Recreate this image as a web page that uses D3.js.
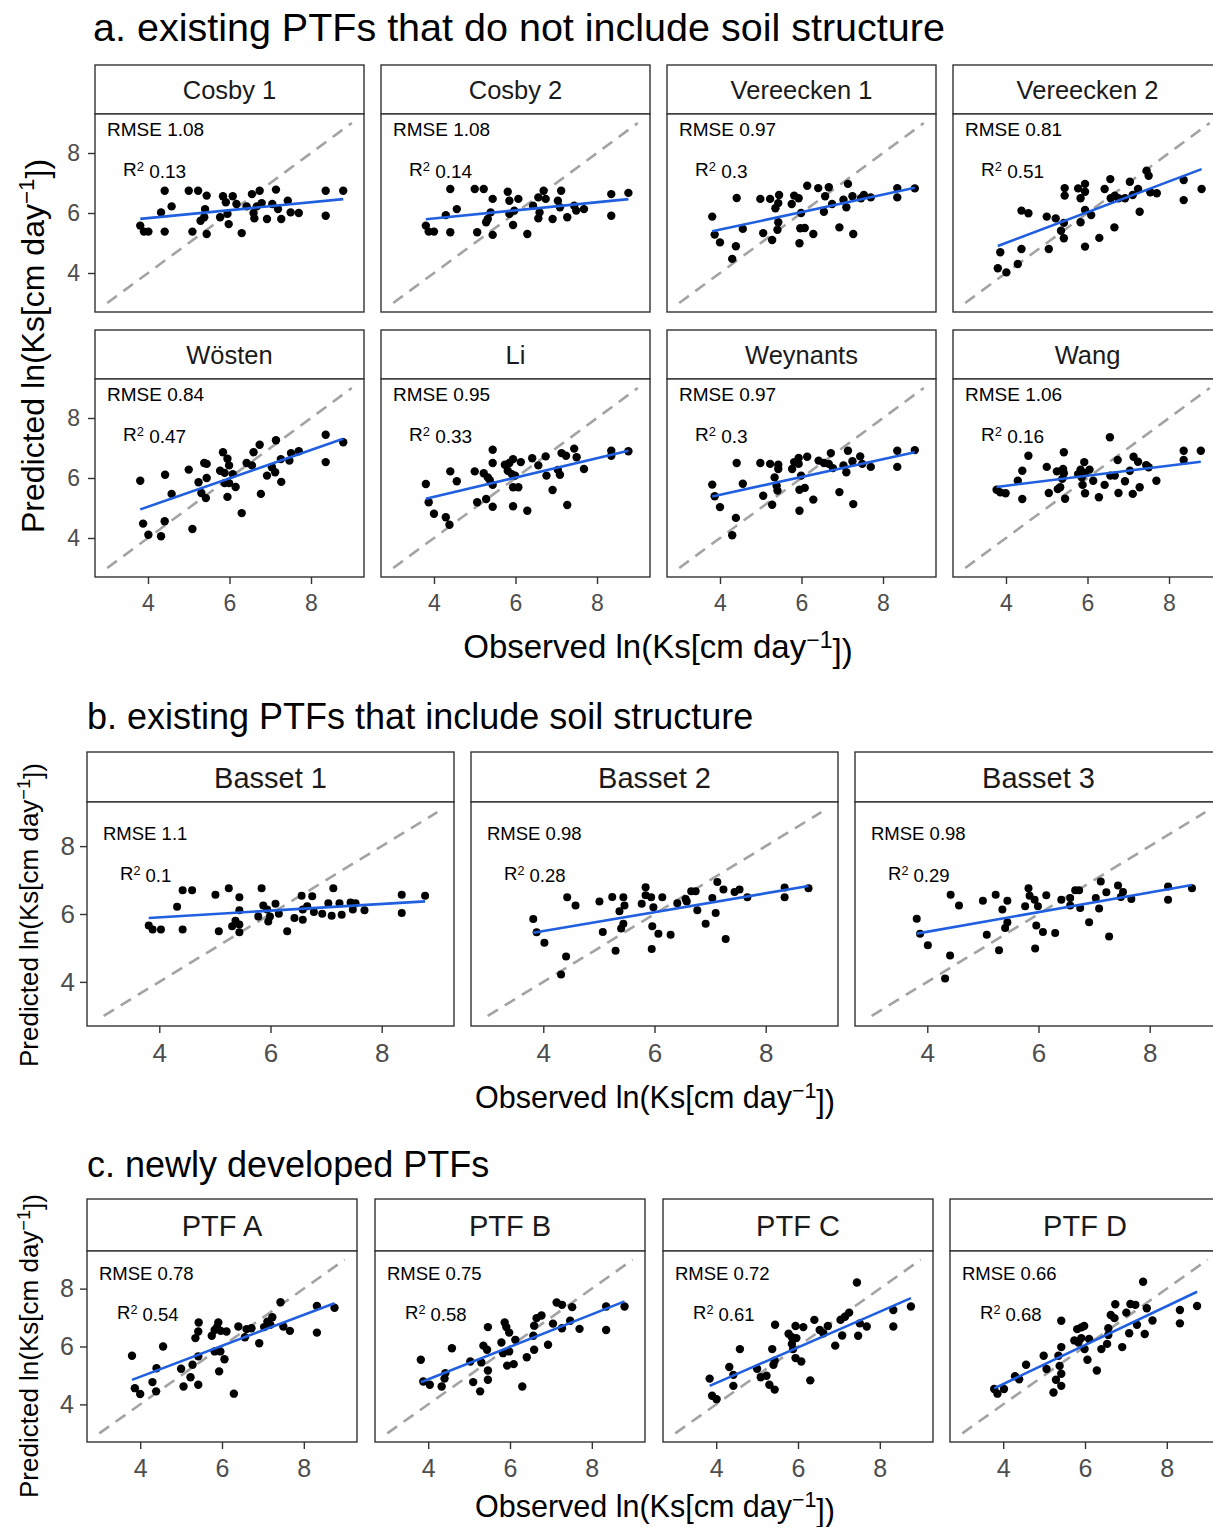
<!DOCTYPE html>
<html>
<head>
<meta charset="utf-8">
<script src="https://cdn.jsdelivr.net/npm/d3@7"></script>
<style>
  body { margin: 0; background: #fff; }
  svg { display: block; font-family: "Liberation Sans", Arial, Helvetica, sans-serif; }
</style>
</head>
<body>
<div id="chart"></div>
<script>
"use strict"

// shared axis settings
const axisDomain = [2.7, 9.3];
const oneToOne = [3, 9];
const tickValues = [4, 6, 8];

// panel labels and fit statistics
const namesA = ["Cosby 1", "Cosby 2", "Vereecken 1", "Vereecken 2", "Wösten", "Li", "Weynants", "Wang"];
const rmseA = ["1.08", "1.08", "0.97", "0.81", "0.84", "0.95", "0.97", "1.06"];
const r2A = ["0.13", "0.14", "0.3", "0.51", "0.47", "0.33", "0.3", "0.16"];
const namesB = ["Basset 1", "Basset 2", "Basset 3"];
const rmseB = ["1.1", "0.98", "0.98"];
const r2B = ["0.1", "0.28", "0.29"];
const namesC = ["PTF A", "PTF B", "PTF C", "PTF D"];
const rmseC = ["0.78", "0.75", "0.72", "0.66"];
const r2C = ["0.54", "0.58", "0.61", "0.68"];

// [observed, predicted] pairs
const cosby1 = [[3.81,5.58],[3.90,5.38],[4.01,5.38],[4.32,6.02],[4.41,6.74],[4.41,5.38],[4.58,6.22],[5.00,6.74],[5.09,5.38],[5.23,6.74],[5.44,6.58],[5.40,6.13],[5.38,5.86],[5.29,5.74],[5.44,5.30],[5.84,6.56],[6.08,6.56],[5.91,6.36],[5.77,5.86],[5.95,5.97],[5.98,5.63],[6.17,6.30],[6.30,5.33],[6.42,6.22],[6.55,6.63],[6.74,6.74],[6.79,6.33],[6.67,6.22],[6.59,6.00],[6.61,5.82],[6.92,5.80],[7.05,6.30],[7.14,6.78],[7.19,6.13],[7.27,5.80],[7.43,6.41],[7.50,6.02],[7.70,6.00],[8.36,6.74],[8.36,5.91],[8.79,6.74]];
const cosby2 = [[3.80,5.58],[3.87,5.38],[4.00,5.38],[4.29,5.93],[4.40,6.80],[4.56,6.13],[4.40,5.36],[5.00,6.80],[5.06,5.36],[5.22,6.80],[5.44,6.47],[5.39,6.02],[5.32,5.80],[5.28,5.69],[5.44,5.27],[5.81,6.71],[5.85,6.41],[6.07,6.47],[5.97,6.08],[5.85,5.97],[5.94,5.60],[6.29,5.30],[6.43,6.24],[6.56,6.52],[6.74,6.47],[6.69,6.74],[6.59,6.02],[6.56,5.82],[6.91,5.80],[7.04,6.41],[7.12,6.74],[7.09,6.19],[7.27,5.86],[7.44,6.24],[7.49,6.08],[7.68,6.13],[8.35,6.63],[8.35,5.91],[8.77,6.67]];
const vereecken1 = [[3.81,5.88],[3.87,5.28],[4.00,5.02],[4.30,4.47],[4.39,4.89],[4.41,6.50],[4.56,5.47],[4.99,6.47],[5.06,5.33],[5.23,6.47],[5.45,6.60],[5.43,6.33],[5.36,6.16],[5.43,5.69],[5.41,5.44],[5.28,5.10],[5.82,6.58],[5.93,6.49],[5.76,6.30],[5.99,6.00],[5.97,5.49],[6.08,5.50],[5.95,4.99],[6.14,6.91],[6.29,5.30],[6.41,6.83],[6.58,6.56],[6.67,6.86],[6.75,6.30],[6.55,6.04],[6.93,5.52],[7.03,6.44],[7.10,6.19],[7.14,6.97],[7.25,6.56],[7.27,5.30],[7.46,6.49],[7.53,6.60],[7.70,6.52],[8.35,6.83],[8.35,6.52],[8.78,6.82]];
const vereecken2 = [[3.80,4.16],[3.86,4.69],[4.01,4.02],[4.29,4.30],[4.38,4.80],[4.38,6.08],[4.55,5.99],[5.00,5.88],[5.05,4.80],[5.22,5.82],[5.44,6.83],[5.44,6.58],[5.42,5.67],[5.35,5.41],[5.42,5.16],[5.77,6.82],[5.94,6.97],[5.83,6.49],[5.94,6.71],[5.83,5.69],[5.94,6.10],[6.09,5.93],[5.94,4.88],[6.29,5.17],[6.42,6.80],[6.56,7.13],[6.57,6.49],[6.67,6.58],[6.66,5.52],[6.76,6.49],[6.92,6.49],[7.04,7.04],[7.11,6.60],[7.24,6.80],[7.28,6.04],[7.45,7.41],[7.50,7.24],[7.54,6.69],[7.70,6.66],[8.36,7.10],[8.36,6.43],[8.80,6.80]];
const wosten = [[3.81,5.91],[3.88,4.48],[4.01,4.11],[4.32,4.06],[4.41,4.56],[4.42,6.11],[4.58,5.47],[5.00,6.28],[5.09,4.30],[5.38,6.50],[5.44,6.47],[5.44,6.00],[5.24,5.86],[5.31,5.50],[5.42,5.33],[5.84,6.86],[5.95,6.64],[5.99,6.42],[5.77,6.24],[5.88,6.17],[6.08,6.13],[5.88,5.83],[5.99,5.83],[6.15,5.70],[5.95,5.37],[6.30,4.83],[6.42,6.50],[6.59,6.86],[6.74,7.11],[6.55,6.42],[6.77,5.47],[6.92,6.08],[7.04,6.36],[7.12,6.19],[7.14,7.26],[7.27,5.87],[7.26,6.63],[7.47,6.58],[7.51,6.83],[7.70,6.89],[8.36,7.44],[8.36,6.53],[8.79,7.19]];
const li = [[3.80,5.80],[3.87,5.19],[4.00,4.81],[4.29,4.69],[4.38,4.44],[4.40,6.22],[4.56,5.89],[5.00,6.22],[5.06,5.19],[5.22,6.16],[5.32,6.02],[5.44,6.94],[5.44,6.50],[5.37,5.93],[5.44,5.77],[5.28,5.30],[5.44,5.04],[5.74,6.44],[5.85,6.50],[5.94,6.63],[5.81,6.24],[5.91,6.13],[5.99,6.08],[5.94,5.69],[6.07,5.69],[5.94,5.06],[6.13,6.53],[6.29,4.91],[6.41,6.66],[6.56,6.42],[6.74,6.72],[6.76,6.08],[6.91,5.60],[7.04,6.27],[7.09,6.11],[7.13,6.83],[7.24,6.74],[7.27,5.10],[7.44,6.98],[7.50,6.69],[7.68,6.30],[8.35,6.91],[8.35,6.74],[8.77,6.89]];
const weynants = [[3.81,5.78],[3.87,5.39],[4.00,5.03],[4.30,4.09],[4.39,4.67],[4.41,6.50],[4.56,5.81],[4.99,6.50],[5.06,5.41],[5.23,6.47],[5.28,5.11],[5.43,6.44],[5.43,6.30],[5.34,6.02],[5.39,5.74],[5.41,5.58],[5.82,6.53],[5.93,6.67],[5.93,6.47],[5.77,6.30],[5.99,6.08],[5.95,5.61],[6.08,5.67],[5.95,4.91],[6.14,6.71],[6.29,5.28],[6.42,6.58],[6.55,6.50],[6.72,6.83],[6.67,6.47],[6.77,6.33],[6.93,5.53],[7.03,6.42],[7.10,6.19],[7.14,6.91],[7.25,6.56],[7.27,5.13],[7.44,6.72],[7.49,6.47],[7.70,6.37],[8.35,6.91],[8.35,6.37],[8.78,6.93]];
const wang = [[3.77,5.61],[3.86,5.52],[3.99,5.49],[4.29,5.91],[4.40,6.24],[4.40,5.30],[4.55,6.74],[5.00,6.37],[5.05,5.50],[5.25,6.22],[5.42,6.86],[5.40,6.30],[5.42,6.16],[5.38,5.97],[5.33,5.69],[5.27,5.63],[5.45,5.31],[5.92,6.53],[5.83,6.28],[6.05,6.28],[5.94,6.16],[5.77,6.13],[5.86,6.02],[6.14,5.91],[5.88,5.77],[5.94,5.49],[6.28,5.36],[6.42,5.77],[6.55,7.36],[6.56,6.08],[6.67,6.08],[6.74,6.60],[6.76,5.50],[6.92,5.89],[7.04,6.24],[7.11,5.47],[7.13,6.71],[7.24,6.54],[7.28,5.69],[7.44,6.43],[7.50,6.36],[7.69,5.91],[8.36,6.91],[8.36,6.60],[8.78,6.91]];
const basset1 = [[3.81,5.66],[3.88,5.54],[4.03,5.54],[4.32,6.21],[4.42,6.70],[4.59,6.70],[4.42,5.54],[5.01,6.57],[5.07,5.49],[5.25,6.76],[5.44,6.49],[5.44,6.11],[5.31,5.64],[5.37,5.80],[5.44,5.69],[5.44,5.46],[5.84,6.76],[5.87,6.25],[5.94,6.13],[5.78,5.93],[5.99,5.93],[5.96,5.78],[6.09,6.30],[6.15,6.01],[6.30,5.49],[6.43,5.88],[6.56,6.54],[6.58,6.13],[6.58,5.83],[6.66,6.23],[6.75,6.52],[6.78,6.06],[6.93,6.01],[7.04,6.32],[7.13,6.76],[7.10,5.95],[7.24,6.32],[7.28,5.98],[7.44,6.34],[7.53,6.32],[7.48,6.13],[7.69,6.11],[8.36,6.57],[8.36,6.03],[8.78,6.54]];
const basset2 = [[3.82,5.85],[3.88,5.46],[4.02,5.15],[4.32,4.22],[4.41,4.75],[4.43,6.49],[4.58,6.25],[5.01,6.37],[5.07,5.47],[5.24,6.50],[5.30,4.92],[5.44,6.49],[5.46,6.25],[5.37,6.08],[5.44,5.71],[5.40,5.57],[5.84,6.79],[5.84,6.55],[5.94,6.49],[5.77,6.30],[5.98,6.20],[5.96,5.64],[5.95,4.97],[6.07,5.42],[6.14,6.49],[6.29,5.39],[6.41,6.32],[6.56,6.44],[6.66,6.67],[6.74,6.67],[6.77,6.11],[6.92,5.71],[7.04,6.47],[7.13,6.94],[7.10,6.03],[7.24,6.72],[7.28,5.26],[7.44,6.65],[7.53,6.72],[7.67,6.49],[8.34,6.78],[8.34,6.49],[8.77,6.76],[6.58,6.37]];
const basset3 = [[3.81,5.86],[3.87,5.42],[4.01,5.08],[4.32,4.10],[4.41,4.78],[4.42,6.57],[4.57,6.25],[5.00,6.39],[5.07,5.39],[5.23,6.57],[5.29,4.93],[5.44,6.39],[5.35,6.13],[5.44,5.76],[5.40,5.59],[5.82,6.76],[5.84,6.54],[5.93,6.42],[5.76,6.23],[5.99,6.23],[5.96,5.66],[5.94,4.98],[6.08,5.47],[6.14,6.55],[6.30,5.44],[6.41,6.42],[6.57,6.47],[6.57,6.25],[6.66,6.70],[6.73,6.70],[6.75,6.18],[6.91,5.76],[7.03,6.47],[7.12,6.96],[7.09,6.16],[7.22,6.64],[7.27,5.34],[7.43,6.84],[7.52,6.65],[7.48,6.50],[7.67,6.44],[8.33,6.81],[8.33,6.42],[8.76,6.76]];
const ptfA = [[3.80,5.68],[3.87,4.56],[4.00,4.36],[4.30,4.77],[4.39,4.45],[4.40,5.25],[4.56,6.00],[5.00,5.23],[5.06,4.62],[5.23,4.94],[5.28,5.37],[5.35,6.29],[5.42,6.52],[5.43,6.83],[5.42,5.66],[5.42,4.68],[5.75,6.37],[5.82,6.57],[5.91,6.83],[5.97,6.54],[5.88,6.67],[6.11,6.52],[5.82,5.83],[5.96,5.83],[6.06,5.56],[5.93,5.14],[6.29,4.37],[6.40,6.69],[6.56,6.32],[6.60,6.60],[6.72,6.63],[6.91,6.11],[7.03,6.67],[7.11,6.86],[7.23,7.01],[7.18,6.75],[7.43,7.53],[7.50,6.69],[7.66,6.54],[8.32,7.40],[8.32,6.48],[8.75,7.34]];
const ptfB = [[3.82,5.54],[3.88,4.79],[4.04,4.68],[4.33,4.62],[4.40,4.89],[4.42,5.08],[4.58,5.94],[5.03,5.48],[5.10,4.77],[5.27,4.45],[5.35,6.03],[5.44,5.89],[5.30,5.45],[5.46,6.67],[5.46,5.17],[5.46,4.85],[5.79,6.14],[5.83,5.77],[5.87,6.83],[5.91,6.67],[5.98,6.48],[5.98,5.83],[5.93,5.34],[6.09,5.39],[6.13,6.23],[6.30,4.62],[6.41,5.63],[6.57,6.37],[6.59,5.89],[6.65,6.98],[6.77,7.07],[6.59,6.72],[6.93,6.06],[7.05,6.79],[7.14,7.52],[7.27,7.44],[7.27,6.63],[7.47,6.89],[7.52,7.36],[7.70,6.61],[8.35,7.38],[8.35,6.57],[8.80,7.38]];
const ptfC = [[3.84,4.89],[3.90,4.30],[4.01,4.18],[4.32,5.29],[4.42,5.02],[4.42,4.64],[4.58,5.91],[5.00,5.23],[5.09,4.94],[5.23,4.99],[5.30,4.68],[5.43,4.51],[5.37,5.91],[5.43,5.51],[5.40,5.37],[5.44,6.75],[5.77,6.44],[5.85,6.32],[5.94,6.71],[5.96,6.29],[5.85,6.09],[5.88,5.91],[5.94,5.60],[6.08,5.48],[6.13,6.67],[6.30,4.83],[6.40,6.92],[6.53,6.57],[6.62,6.46],[6.73,6.71],[6.91,6.03],[7.08,6.38],[7.04,6.92],[7.15,7.03],[7.25,7.17],[7.44,8.21],[7.47,6.37],[7.51,6.80],[7.68,6.69],[8.33,7.26],[8.33,6.69],[8.76,7.38]];
const ptfD = [[3.78,4.53],[3.86,4.37],[4.02,4.53],[4.29,4.97],[4.39,4.87],[4.56,5.37],[4.99,5.68],[5.06,5.22],[5.23,4.41],[5.29,4.85],[5.42,4.64],[5.42,5.06],[5.38,5.33],[5.35,5.68],[5.42,5.98],[5.42,6.89],[5.74,6.21],[5.81,6.60],[5.91,6.66],[5.98,6.71],[5.91,6.29],[5.84,6.14],[5.99,5.91],[6.10,6.26],[6.06,5.54],[6.29,5.17],[6.40,5.91],[6.54,6.09],[6.57,6.63],[6.57,6.40],[6.74,7.46],[6.63,7.09],[6.72,6.98],[6.91,5.98],[7.01,7.17],[7.08,6.46],[7.11,7.47],[7.23,7.44],[7.27,6.75],[7.42,8.24],[7.46,6.43],[7.51,7.32],[7.65,6.90],[8.32,7.26],[8.32,6.80],[8.74,7.40]];

// layout of the three sub-figures
const sections = [
  {title: "a. existing PTFs that do not include soil structure", titleY: 41, titleX: 93, titleFont: 39.5,
   names: namesA, rmse: rmseA, r2: r2A,
   points: [cosby1, cosby2, vereecken1, vereecken2, wosten, li, weynants, wang],
   lefts: [95, 381, 667, 953], width: 269, stripTops: [65, 330], stripH: 49, plotH: 198,
   stripFont: 25.5, stripBase: 34, tickFont: 23, tickPad: 8, xLabelOff: 34, annFont: 19,
   rmsePos: [12, 22], r2Pos: [28, 62], radius: 4.2,
   xTitle: {x: 658, y: 658, size: 33}, yTitle: {x: 44, y: 346, size: 32}},
  {title: "b. existing PTFs that include soil structure", titleY: 729, titleX: 87, titleFont: 36,
   names: namesB, rmse: rmseB, r2: r2B,
   points: [basset1, basset2, basset3],
   lefts: [87, 471, 855], width: 367, stripTops: [752], stripH: 50, plotH: 224,
   stripFont: 29, stripBase: 36, tickFont: 26, tickPad: 5, xLabelOff: 36, annFont: 18.5,
   rmsePos: [16, 38], r2Pos: [33, 78], radius: 4,
   xTitle: {x: 655, y: 1108, size: 30.5}, yTitle: {x: 38, y: 915, size: 26}},
  {title: "c. newly developed PTFs", titleY: 1177, titleX: 87, titleFont: 36,
   names: namesC, rmse: rmseC, r2: r2C,
   points: [ptfA, ptfB, ptfC, ptfD],
   lefts: [87, 375, 663, 950], width: 270, stripTops: [1199], stripH: 52, plotH: 191,
   stripFont: 29, stripBase: 37, tickFont: 25, tickPad: 6, xLabelOff: 35, annFont: 18.5,
   rmsePos: [12, 29], r2Pos: [30, 68], radius: 4.2,
   xTitle: {x: 655, y: 1517, size: 30.5}, yTitle: {x: 38, y: 1346, size: 26}}
];

const svg = d3.select("#chart").append("svg")
    .attr("width", 1213)
    .attr("height", 1527);

// least squares fit, returns end points over the observed range
function fitLine(pts) {
  var mx = d3.mean(pts, function(d) { return d[0]; }),
      my = d3.mean(pts, function(d) { return d[1]; });
  var sxy = d3.sum(pts, function(d) { return (d[0] - mx) * (d[1] - my); }),
      sxx = d3.sum(pts, function(d) { return (d[0] - mx) * (d[0] - mx); });
  var b = sxy / sxx, a = my - b * mx;
  var ext = d3.extent(pts, function(d) { return d[0]; });
  return [[ext[0], a + b * ext[0]], [ext[1], a + b * ext[1]]];
}

// label with a superscript -1 for the axis titles
function unitTitle(sel, first) {
  sel.append("tspan").text(first + " ln(Ks[cm day");
  sel.append("tspan").attr("dy", "-0.45em").attr("font-size", "0.7em").text("\u22121");
  sel.append("tspan").attr("dy", "0.45em").text("])");
}

sections.forEach(function(sec) {
  var g = svg.append("g");
  g.append("text")
    .attr("x", sec.titleX)
    .attr("y", sec.titleY)
    .attr("font-size", sec.titleFont)
    .attr("fill", "#000")
    .text(sec.title);

  var nCols = sec.lefts.length;

  sec.names.forEach(function(name, i) {
    var col = i % nCols, row = Math.floor(i / nCols);
    var left = sec.lefts[col],
        stripTop = sec.stripTops[row],
        top = stripTop + sec.stripH;
    var x = d3.scaleLinear().domain(axisDomain).range([0, sec.width]);
    var y = d3.scaleLinear().domain(axisDomain).range([sec.plotH, 0]);
    var pts = sec.points[i];

    // strip
    g.append("rect")
      .attr("x", left).attr("y", stripTop)
      .attr("width", sec.width).attr("height", sec.stripH)
      .attr("fill", "#fff").attr("stroke", "#333").attr("stroke-width", 1.4);
    g.append("text")
      .attr("x", left + sec.width / 2)
      .attr("y", stripTop + sec.stripBase)
      .attr("text-anchor", "middle")
      .attr("font-size", sec.stripFont)
      .attr("fill", "#1a1a1a")
      .text(name);

    var p = g.append("g").attr("transform", "translate(" + left + "," + top + ")");
    p.append("rect")
      .attr("width", sec.width).attr("height", sec.plotH)
      .attr("fill", "#fff");

    // 1:1 line
    p.append("line")
      .attr("x1", x(oneToOne[0])).attr("y1", y(oneToOne[0]))
      .attr("x2", x(oneToOne[1])).attr("y2", y(oneToOne[1]))
      .attr("stroke", "#a3a3a3").attr("stroke-width", 2.6)
      .attr("stroke-dasharray", "12,8");

    p.selectAll("circle")
      .data(pts)
      .enter().append("circle")
        .attr("cx", function(d) { return x(d[0]); })
        .attr("cy", function(d) { return y(d[1]); })
        .attr("r", sec.radius)
        .attr("fill", "#000");

    var fit = fitLine(pts);
    p.append("line")
      .attr("x1", x(fit[0][0])).attr("y1", y(fit[0][1]))
      .attr("x2", x(fit[1][0])).attr("y2", y(fit[1][1]))
      .attr("stroke", "#1f5fe0").attr("stroke-width", 2.6);

    // statistics
    p.append("text")
      .attr("x", sec.rmsePos[0]).attr("y", sec.rmsePos[1])
      .attr("font-size", sec.annFont).attr("fill", "#000")
      .text("RMSE " + sec.rmse[i]);
    var r2 = p.append("text")
      .attr("x", sec.r2Pos[0]).attr("y", sec.r2Pos[1])
      .attr("font-size", sec.annFont).attr("fill", "#000");
    r2.append("tspan").text("R");
    r2.append("tspan").attr("dy", "-0.4em").attr("font-size", "0.68em").text("2");
    r2.append("tspan").attr("dy", "0.4em").text(" " + sec.r2[i]);

    p.append("rect")
      .attr("width", sec.width).attr("height", sec.plotH)
      .attr("fill", "none").attr("stroke", "#333").attr("stroke-width", 1.4);

    // axes only on the outer panels
    if (col == 0) {
      var ay = p.append("g")
        .call(d3.axisLeft(y).tickValues(tickValues).tickFormat(d3.format("d"))
                .tickSize(7).tickPadding(sec.tickPad));
      ay.select(".domain").remove();
      ay.selectAll("line").attr("stroke", "#333").attr("stroke-width", 1.4);
      ay.selectAll("text").attr("font-size", sec.tickFont).attr("fill", "#4d4d4d")
        .attr("font-family", null);
    }
    if (row == sec.stripTops.length - 1) {
      var ax = p.append("g")
        .attr("transform", "translate(0," + sec.plotH + ")")
        .call(d3.axisBottom(x).tickValues(tickValues).tickFormat(d3.format("d")).tickSize(7));
      ax.select(".domain").remove();
      ax.selectAll("line").attr("stroke", "#333").attr("stroke-width", 1.4);
      ax.selectAll("text").attr("font-size", sec.tickFont).attr("fill", "#4d4d4d")
        .attr("font-family", null)
        .attr("y", sec.xLabelOff).attr("dy", null);
    }
  });

  // axis titles
  var xt = g.append("text")
    .attr("x", sec.xTitle.x).attr("y", sec.xTitle.y)
    .attr("text-anchor", "middle")
    .attr("font-size", sec.xTitle.size).attr("fill", "#000");
  unitTitle(xt, "Observed");
  var yt = g.append("text")
    .attr("transform", "translate(" + sec.yTitle.x + "," + sec.yTitle.y + ") rotate(-90)")
    .attr("text-anchor", "middle")
    .attr("font-size", sec.yTitle.size).attr("fill", "#000");
  unitTitle(yt, "Predicted");
});
</script>
</body>
</html>
